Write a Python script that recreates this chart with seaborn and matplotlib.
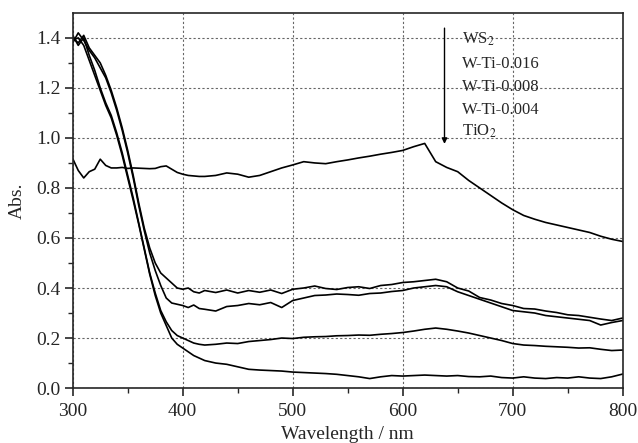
import matplotlib
matplotlib.use("Agg")
import matplotlib.pyplot as plt
import seaborn as sns

# wavelength grid (nm): 5 nm steps through the band edge, 10 nm after
wl = [300, 305, 310, 315, 320, 325, 330, 335, 340, 345, 350, 355, 360, 365,
      370, 375, 380, 385, 390, 395, 400, 405, 410, 415, 420,
      430, 440, 450, 460, 470, 480, 490, 500, 510, 520, 530, 540, 550, 560,
      570, 580, 590, 600, 610, 620, 630, 640, 650, 660, 670, 680, 690, 700,
      710, 720, 730, 740, 750, 760, 770, 780, 790, 800]

ws2 = [0.917, 0.87, 0.84, 0.865, 0.875, 0.915, 0.89, 0.88, 0.88, 0.882, 0.878,
       0.88, 0.879, 0.878, 0.877, 0.878, 0.885, 0.888, 0.875, 0.862, 0.855,
       0.85, 0.848, 0.846, 0.846,
       0.85, 0.86, 0.855, 0.843, 0.85, 0.865, 0.88, 0.892, 0.905, 0.9, 0.897,
       0.905, 0.912, 0.92, 0.927, 0.935, 0.942, 0.95, 0.965, 0.978, 0.905,
       0.882, 0.865, 0.83, 0.80, 0.77, 0.74, 0.713, 0.69, 0.675, 0.662, 0.652,
       0.642, 0.632, 0.622, 0.607, 0.595, 0.586]

wti_016 = [1.40, 1.38, 1.41, 1.36, 1.33, 1.30, 1.25, 1.19, 1.12, 1.04, 0.95,
           0.85, 0.74, 0.64, 0.56, 0.50, 0.46, 0.44, 0.42, 0.40, 0.395, 0.40,
           0.385, 0.38, 0.39,
           0.382, 0.392, 0.38, 0.39, 0.383, 0.392, 0.378, 0.395, 0.40, 0.408,
           0.398, 0.394, 0.402, 0.405, 0.398, 0.41, 0.414, 0.422, 0.425, 0.43,
           0.435, 0.425, 0.40, 0.388, 0.362, 0.352, 0.338, 0.33, 0.318, 0.316,
           0.308, 0.302, 0.293, 0.29, 0.283, 0.276, 0.27, 0.28]

wti_008 = [1.38, 1.42, 1.39, 1.35, 1.32, 1.28, 1.24, 1.18, 1.11, 1.03, 0.94,
           0.84, 0.73, 0.63, 0.54, 0.47, 0.41, 0.36, 0.34, 0.335, 0.33, 0.322,
           0.332, 0.318, 0.315,
           0.308, 0.326, 0.33, 0.338, 0.333, 0.342, 0.322, 0.35, 0.36, 0.37,
           0.372, 0.376, 0.374, 0.371, 0.378, 0.38, 0.386, 0.39, 0.40, 0.405,
           0.41, 0.405, 0.385, 0.37, 0.355, 0.34, 0.325, 0.31, 0.305, 0.30,
           0.29, 0.285, 0.28, 0.275, 0.27, 0.252, 0.262, 0.27]

wti_004 = [1.41, 1.37, 1.40, 1.33, 1.27, 1.20, 1.14, 1.09, 1.02, 0.94, 0.85,
           0.76, 0.66, 0.56, 0.46, 0.38, 0.31, 0.265, 0.23, 0.21, 0.20, 0.19,
           0.18, 0.175, 0.172,
           0.175, 0.18, 0.178, 0.186, 0.19, 0.194, 0.20, 0.198, 0.203, 0.205,
           0.206, 0.209, 0.21, 0.212, 0.211, 0.215, 0.218, 0.222, 0.228, 0.235,
           0.24, 0.235, 0.228, 0.22, 0.21, 0.20, 0.19, 0.178, 0.172, 0.17,
           0.167, 0.165, 0.163, 0.16, 0.161, 0.155, 0.15, 0.152]

tio2 = [1.39, 1.40, 1.37, 1.31, 1.25, 1.19, 1.13, 1.08, 1.01, 0.93, 0.84,
        0.75, 0.655, 0.555, 0.455, 0.37, 0.30, 0.25, 0.20, 0.175, 0.16, 0.145,
        0.13, 0.12, 0.11,
        0.10, 0.095, 0.085, 0.075, 0.072, 0.07, 0.068, 0.064, 0.062, 0.06,
        0.058, 0.055, 0.05, 0.045, 0.038, 0.045, 0.05, 0.048, 0.05, 0.052,
        0.05, 0.048, 0.05, 0.046, 0.045, 0.048, 0.042, 0.04, 0.045, 0.04,
        0.038, 0.042, 0.04, 0.045, 0.04, 0.038, 0.045, 0.056]

labels = ["WS$_2$", "W-Ti-0.016", "W-Ti-0.008", "W-Ti-0.004", "TiO$_2$"]
series = [ws2, wti_016, wti_008, wti_004, tio2]

sns.set_style("ticks")
plt.rcParams["font.family"] = ["Liberation Serif", "DejaVu Serif"]
plt.rcParams["mathtext.fontset"] = "stix"

fig = plt.figure(figsize=(6.38, 4.43), dpi=100)
ax = fig.add_axes([0.114, 0.124, 0.862, 0.847])

for vals in series:
    sns.lineplot(x=wl, y=vals, ax=ax, color="black", linewidth=1.2)

ax.set_xlim(300, 800)
ax.set_ylim(0, 1.5)
ax.set_xticks([300, 400, 500, 600, 700, 800])
ax.set_xticks(range(350, 800, 100), minor=True)
ax.set_yticks([0.0, 0.2, 0.4, 0.6, 0.8, 1.0, 1.2, 1.4])
ax.set_yticks([0.1, 0.3, 0.5, 0.7, 0.9, 1.1, 1.3], minor=True)
ax.set_yticklabels([f"{v:.1f}" for v in ax.get_yticks()])
ax.tick_params(which="major", direction="out", length=6, width=1.2,
               labelsize=14, pad=3)
ax.tick_params(axis="x", which="major", pad=5)
ax.tick_params(which="minor", direction="out", length=3.5, width=1.0)
ax.grid(True, which="major", linestyle=(0, (2, 2)), color="#666666",
        linewidth=0.8)
for sp in ax.spines.values():
    sp.set_linewidth(1.2)
    sp.set_visible(True)

ax.set_xlabel("Wavelength / nm", fontsize=14, labelpad=4)
ax.set_ylabel("Abs.", fontsize=14, labelpad=7)

# label list with downward arrow
label_y = [1.396, 1.296, 1.204, 1.113, 1.025]
for lab, yy in zip(labels, label_y):
    ax.text(654, yy, lab, fontsize=12, va="center", ha="left")
ax.annotate("", xy=(638, 0.965), xytext=(638, 1.45),
            arrowprops=dict(arrowstyle="-|>", color="black", lw=1.0,
                            mutation_scale=8))

fig.savefig("out.png", dpi=100)
